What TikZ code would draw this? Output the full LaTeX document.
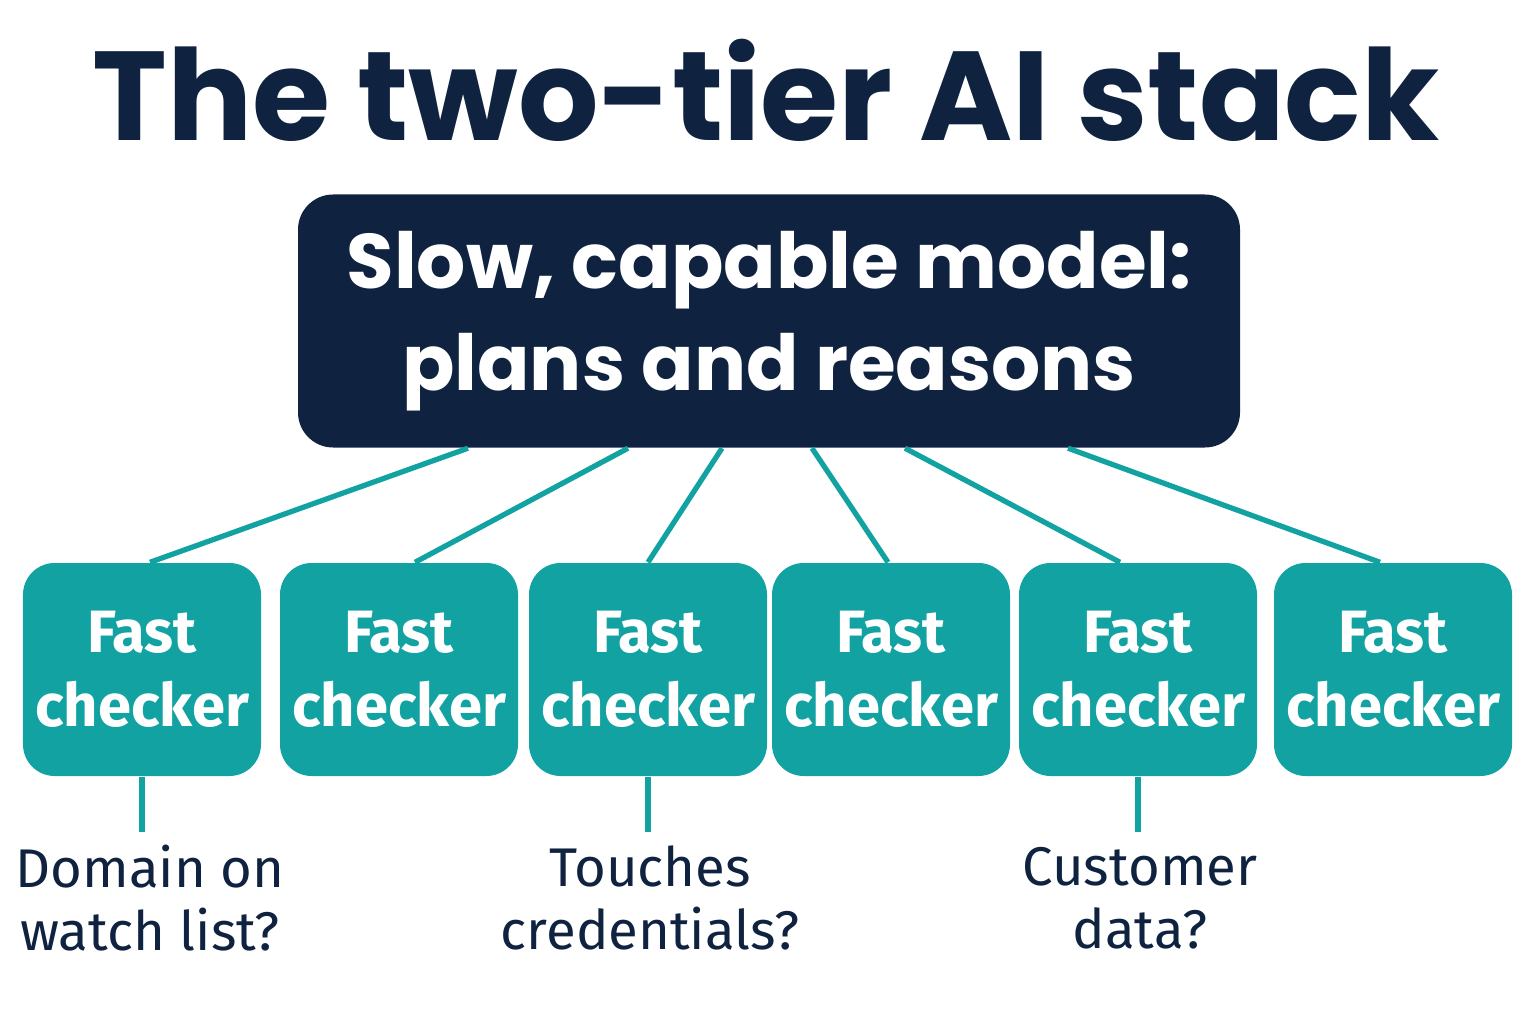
\documentclass[tikz,border=0pt]{standalone}
\usepackage{fontspec}
\setmainfont{Poppins}
\newfontfamily\fira{Fira Sans}
\usetikzlibrary{calc, positioning}
\definecolor{navy}{HTML}{0F2240}
\definecolor{teal}{HTML}{12A2A2}
\begin{document}
\begin{tikzpicture}[
	slowbox/.style={fill=navy, rounded corners=10pt, minimum width=9.42cm, minimum height=2.53cm, text=white, align=center, font=\fontsize{22}{29}\selectfont\bfseries},
	checkbox/.style={fill=teal, rounded corners=9pt, minimum width=2.38cm, minimum height=2.13cm, inner sep=0pt, text=white, align=center, font=\fira\fontsize{17}{21}\selectfont\bfseries},
	wire/.style={teal, line width=1.5pt},
	question/.style={text=navy, align=center, font=\fira\fontsize{15.5}{18}\selectfont}
	]
	\useasboundingbox (0,0) rectangle (15.36,10.24);
	%Title
	\node (title) at (7.66,9.34) {\fontsize{36}{42}\selectfont\bfseries\color{navy}The two-tier AI stack};
	%Slow model
	\node [slowbox] (slow) at (7.69,7.03) {Slow, capable model:\\plans and reasons};
	%Fast checkers
	\foreach \i/\x in {1/1.42, 2/3.99, 3/6.48, 4/8.91, 5/11.38, 6/13.93} {
		\node [checkbox] (check\i) at (\x,3.545) {Fast\\checker};
	}
	%Connectors
	\foreach \i/\a/\b in {1/-3.01/0.08, 2/-1.41/0.16, 3/-0.47/0.0, 4/0.43/-0.03, 5/1.36/-0.18, 6/2.99/-0.13} {
		\path (slow.south) ++(\a,0) coordinate (s\i);
		\path (check\i.north) ++(\b,0) coordinate (c\i);
		\draw [wire] (s\i) -- (c\i);
	}
	%Questions
	\node [question] (q1) at (1.50,1.26) {Domain on\\watch list?};
	\node [question] (q3) at (6.50,1.26) {Touches\\credentials?};
	\node [question] (q5) at (11.40,1.26) {Customer\\data?};
	\foreach \i in {1,3,5} {
		\path (check\i.south) ++(0,-0.55) coordinate (e\i);
		\draw [wire] (check\i.south) -- (e\i);
	}
\end{tikzpicture}
\end{document}
